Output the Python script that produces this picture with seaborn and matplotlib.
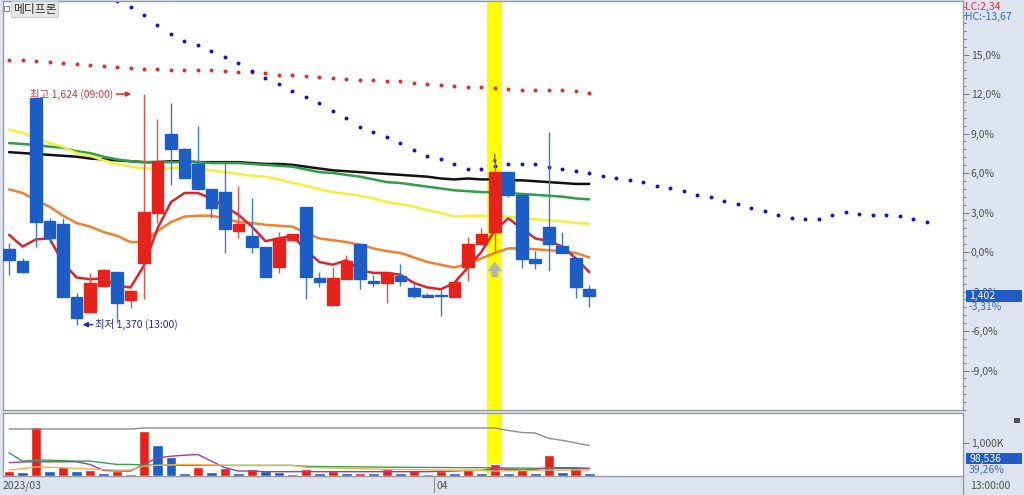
import matplotlib
matplotlib.use("Agg")
import matplotlib.pyplot as plt
from matplotlib.patches import Rectangle
from matplotlib.lines import Line2D
from matplotlib.ticker import AutoMinorLocator
import numpy as np
import pandas as pd
import seaborn as sns

# ---- hourly candles (0 = first bar on screen) ----
opens = [1453, 1440, 1620, 1484, 1481, 1400, 1384, 1413, 1428, 1397, 1438, 1493, 1580, 1563, 1547,
         1519, 1516, 1473, 1468, 1455, 1433, 1463, 1500, 1421, 1392, 1420, 1459, 1418, 1416, 1424,
         1410, 1403, 1403, 1400, 1434, 1459, 1472, 1538, 1513, 1442, 1478, 1457, 1443, 1409]
highs = [1460, 1443, 1621, 1488, 1488, 1405, 1427, 1431, 1428, 1408, 1624, 1597, 1614, 1565, 1589,
         1519, 1548, 1523, 1510, 1455, 1472, 1470, 1500, 1428, 1434, 1447, 1459, 1425, 1427, 1437,
         1416, 1405, 1408, 1417, 1467, 1477, 1551, 1538, 1513, 1451, 1582, 1472, 1443, 1414]
lows = [1425, 1427, 1455, 1460, 1400, 1370, 1384, 1412, 1372, 1388, 1398, 1482, 1524, 1531, 1518,
        1488, 1449, 1465, 1449, 1422, 1427, 1462, 1398, 1411, 1392, 1420, 1409, 1412, 1394, 1413,
        1399, 1400, 1379, 1400, 1418, 1459, 1450, 1511, 1432, 1431, 1429, 1449, 1399, 1389]
closes = [1441, 1428, 1483, 1466, 1400, 1377, 1416, 1430, 1394, 1407, 1494, 1550, 1564, 1531, 1519,
          1499, 1475, 1481, 1456, 1422, 1466, 1470, 1422, 1417, 1421, 1440, 1420, 1416, 1427, 1418,
          1402, 1401, 1402, 1417, 1459, 1470, 1538, 1513, 1442, 1438, 1459, 1449, 1411, 1402]

# moving averages
ma_red = [1469, 1456, 1464, 1465, 1438, 1422, 1420, 1421, 1413, 1411, 1435, 1476, 1505, 1515, 1515,
          1509, 1500, 1491, 1478, 1462, 1465, 1468, 1452, 1439, 1436, 1441, 1430, 1427, 1427, 1425,
          1416, 1411, 1409, 1416, 1433, 1450, 1474, 1487, 1476, 1465, 1462, 1456, 1443, 1428]
ma_orange = [1519, 1515, 1507, 1500, 1490, 1482, 1478, 1472, 1468, 1461, 1461, 1473, 1483, 1489, 1490,
             1490, 1487, 1483, 1482, 1480, 1479, 1478, 1471, 1465, 1463, 1461, 1458, 1454, 1451, 1449,
             1444, 1439, 1436, 1433, 1437, 1443, 1449, 1454, 1454, 1453, 1452, 1451, 1449, 1444]
ma_yellow = [1585, 1581, 1576, 1570, 1566, 1559, 1556, 1551, 1547, 1544, 1542, 1542, 1542, 1544, 1542,
             1540, 1538, 1536, 1534, 1533, 1530, 1526, 1523, 1519, 1516, 1514, 1512, 1509, 1505, 1503,
             1500, 1496, 1493, 1489, 1490, 1490, 1490, 1489, 1487, 1486, 1485, 1484, 1482, 1481]
ma_green = [1570, 1569, 1568, 1566, 1565, 1561, 1559, 1555, 1552, 1550, 1549, 1549, 1549, 1549, 1549,
            1548, 1548, 1548, 1547, 1546, 1545, 1544, 1541, 1538, 1537, 1535, 1533, 1530, 1527, 1526,
            1524, 1522, 1520, 1518, 1517, 1516, 1516, 1515, 1514, 1513, 1512, 1511, 1509, 1508]
ma_black = [1560, 1559, 1558, 1557, 1556, 1555, 1553, 1552, 1551, 1550, 1549, 1549, 1550, 1550, 1549,
            1549, 1549, 1549, 1548, 1547, 1547, 1546, 1544, 1542, 1540, 1539, 1538, 1537, 1536, 1535,
            1534, 1533, 1531, 1530, 1531, 1530, 1530, 1529, 1529, 1528, 1527, 1526, 1525, 1525]

# dotted spans
span_red = [1662, 1661, 1660, 1659, 1658, 1657, 1656, 1655, 1654, 1653, 1652, 1652, 1651, 1651, 1650,
            1650, 1649, 1648, 1648, 1647, 1645, 1645, 1644, 1643, 1642, 1641, 1640, 1639, 1638, 1638,
            1636, 1635, 1634, 1633, 1632, 1632, 1631, 1630, 1629, 1628, 1628, 1628, 1627, 1625]
span_blue_start = 8  # first visible bar of the leading blue span
span_blue = [1726, 1720, 1711, 1700, 1690, 1682, 1678, 1671, 1665, 1658, 1649, 1642, 1635, 1627, 1621,
             1614, 1605, 1598, 1588, 1582, 1577, 1570, 1562, 1556, 1552, 1547, 1542, 1542, 1545, 1547,
             1547, 1547, 1544, 1542, 1539, 1537, 1534, 1531, 1529, 1527, 1523, 1520, 1517, 1513, 1511,
             1506, 1503, 1498, 1495, 1491, 1487, 1486, 1486, 1491, 1494, 1492, 1491, 1491, 1490, 1486,
             1483]

# volume (shares) and volume lines (thousands)
volume = [139000, 130000, 1485000, 139000, 277000, 149000, 178000, 89000, 158000, 69000, 1356000,
          921000, 564000, 89000, 257000, 119000, 228000, 89000, 198000, 139000, 135000, 69000,
          198000, 79000, 149000, 95000, 104000, 79000, 198000, 79000, 178000, 69000, 139000, 99000,
          178000, 99000, 366000, 99000, 198000, 99000, 643000, 119000, 247000, 98536]
vol_gray = [1410, 1410, 1410, 1410, 1410, 1410, 1410, 1410, 1410, 1410, 1440, 1440, 1440, 1440, 1440,
            1440, 1440, 1440, 1440, 1440, 1440, 1440, 1440, 1440, 1440, 1440, 1440, 1440, 1440, 1440,
            1440, 1440, 1440, 1440, 1440, 1440, 1440, 1366, 1307, 1289, 1129, 1069, 992, 912]
vol_green = [695, 446, 475, 475, 460, 446, 446, 398, 347, 347, 330, 325, 320, 318, 318, 318, 318, 318,
             318, 318, 318, 318, 290, 285, 280, 278, 275, 270, 265, 262, 260, 258, 255, 252, 250, 249,
             245, 240, 236, 232, 229, 226, 223, 220]
vol_purple = [400, 420, 426, 426, 426, 426, 347, 168, 149, 149, 347, 545, 594, 624, 644, 446, 248, 149,
              149, 129, 129, 129, 129, 129, 129, 129, 129, 129, 129, 129, 129, 129, 140, 149, 168, 168,
              218, 198, 180, 198, 248, 248, 248, 230]
vol_orange = [178, 220, 277, 260, 250, 228, 210, 190, 178, 180, 297, 320, 335, 347, 340, 330, 320, 317,
              317, 317, 317, 317, 260, 248, 240, 230, 220, 210, 200, 195, 190, 185, 180, 175, 170, 168,
              149, 155, 160, 165, 175, 178, 178, 178]

base_price = 1450          # 0,0% on the right scale
pct_ticks = [-9, -6, -3, 0, 3, 6, 9, 12, 15]
signal_bar = 36            # highlighted bar
april_start = 32           # first bar of 04

RED = '#e5231b'
BLUE = '#1d5ec6'
W, H = 1024, 495

sns.set_theme(style="white")
plt.rcParams['font.family'] = ['Noto Sans CJK KR', 'DejaVu Sans']

df = pd.DataFrame({'o': opens, 'h': highs, 'l': lows, 'c': closes, 'v': volume,
                   'ma1': ma_red, 'ma2': ma_orange, 'ma3': ma_yellow, 'ma4': ma_green,
                   'ma5': ma_black, 'span_r': span_red,
                   'vg': vol_gray, 'vgr': vol_green, 'vp': vol_purple, 'vo': vol_orange})
df['i'] = np.arange(len(df))
up = df['c'] >= df['o']
cols = np.where(up, RED, BLUE)
vol_up = df['v'].diff().fillna(1) > 0
vcols = np.where(vol_up, RED, BLUE)
lead = pd.DataFrame({'i': np.arange(span_blue_start, span_blue_start + len(span_blue)),
                     'v': span_blue})


def box(x0, y0, x1, y1):
    return [x0 / W, 1 - y1 / H, (x1 - x0) / W, (y1 - y0) / H]


fig = plt.figure(figsize=(10.24, 4.95), dpi=100, facecolor='#dde4ef')
ax = fig.add_axes(box(3, 1, 963, 410))
axv = fig.add_axes(box(3, 413, 963, 476), sharex=ax)
for a in (ax, axv):
    a.set_facecolor('white')
    for s in a.spines.values():
        s.set_color('#9a9a9a')
        s.set_linewidth(1)
    a.axvspan(signal_bar - 0.55, signal_bar + 0.5, color='#ffff00', zorder=0, lw=0)

# ---- price panel ----
sns.scatterplot(data=df, x='i', y='span_r', ax=ax, color='#e52a2a', s=8, linewidth=0, zorder=2)
sns.scatterplot(data=lead, x='i', y='v', ax=ax, color='#1414c0', s=8, linewidth=0, zorder=2)
for key, c in [('ma5', '#111111'), ('ma4', '#2e9e48'), ('ma3', '#f4ef3a'),
               ('ma2', '#f0822e'), ('ma1', '#e0232b')]:
    sns.lineplot(data=df, x='i', y=key, ax=ax, color=c, linewidth=1.8, zorder=3)

ax.vlines(df['i'], df['l'], df['h'], colors=np.where(up, '#e8504a', '#3f78cf'), lw=1, zorder=4)
ax.bar(df['i'], df['c'] - df['o'], bottom=df['o'], width=0.86, color=cols,
       edgecolor=cols, linewidth=1, zorder=5)

# signal markers on the highlighted bar
ax.annotate('', xy=(signal_bar, 1440), xytext=(signal_bar, 1422),
            arrowprops=dict(arrowstyle='simple,head_width=1.3,head_length=0.9,tail_width=0.6',
                            color='#b4b4b4', lw=0, shrinkA=0, shrinkB=0, mutation_scale=8),
            zorder=6)
ax.annotate('', xy=(signal_bar, 1547), xytext=(signal_bar, 1558),
            arrowprops=dict(arrowstyle='-|>', color='#555555', lw=0.8, mutation_scale=5,
                            shrinkA=0, shrinkB=0), zorder=6)

# high / low labels
hi_i = int(np.argmax(highs))
lo_i = int(np.argmin(lows))
ax.annotate('', xy=(hi_i - 0.95, highs[hi_i]), xytext=(hi_i - 2.05, highs[hi_i]),
            arrowprops=dict(arrowstyle='-|>', color='#e02828', lw=1.1, mutation_scale=7,
                            shrinkA=0, shrinkB=0))
ax.text(hi_i - 2.3, highs[hi_i], f'최고 {highs[hi_i]:,} (09:00)', color='#d8333a',
        fontsize=7.5, ha='right', va='center')
ax.annotate('', xy=(lo_i + 0.45, lows[lo_i]), xytext=(lo_i + 1.2, lows[lo_i]),
            arrowprops=dict(arrowstyle='-|>', color='#2626a8', lw=1.1, mutation_scale=7,
                            shrinkA=0, shrinkB=0))
ax.text(lo_i + 1.35, lows[lo_i], f'최저 {lows[lo_i]:,} (13:00)', color='#2626a8',
        fontsize=7.5, ha='left', va='center')

ax.set_xlim(-0.45, 70.7)
ax.set_ylim(1276, 1726.5)
ax.set_xlabel('')
ax.set_ylabel('')
ax.set_xticks([])
ax.yaxis.tick_right()
ax.set_yticks([base_price * (1 + p / 100) for p in pct_ticks])
ax.set_yticklabels([f'{p:.1f}%'.replace('.', ',') for p in pct_ticks])
ax.yaxis.set_minor_locator(AutoMinorLocator(5))
ax.tick_params(axis='y', which='both', right=True, left=False, labelright=True, labelleft=False,
               colors='#7a7a7a', labelcolor='#505050', labelsize=7.5, pad=1.5, width=0.7)
ax.tick_params(axis='y', which='major', length=4)
ax.tick_params(axis='y', which='minor', length=2)

# ---- volume panel ----
axv.bar(df['i'], df['v'], width=0.78, color=vcols, zorder=3)
for key, c in [('vg', '#8c8c8c'), ('vgr', '#3aa04a'), ('vp', '#a03ca8'), ('vo', '#f2b24e')]:
    sns.lineplot(x=df['i'], y=df[key] * 1000, ax=axv, color=c, linewidth=1, zorder=4)
axv.set_ylim(0, 1890000)
axv.set_xlabel('')
axv.set_ylabel('')
axv.yaxis.tick_right()
axv.set_yticks([1000000])
axv.set_yticklabels(['1,000K'])
axv.yaxis.set_minor_locator(AutoMinorLocator(5))
axv.tick_params(axis='y', which='both', right=True, left=False, labelright=True, labelleft=False,
                colors='#7a7a7a', labelcolor='#505050', labelsize=7.5, pad=1.5, width=0.7)
axv.tick_params(axis='y', which='major', length=4)
axv.tick_params(axis='y', which='minor', length=2)
axv.tick_params(axis='x', which='both', bottom=False, labelbottom=False)

# ---- date strip ----
tr = axv.get_xaxis_transform()
axv.text(0.0, -0.16, '2023/03', transform=axv.transAxes, fontsize=7.5, color='#505050',
         va='center', ha='left')
axv.plot([april_start - 0.5] * 2, [-0.02, -0.26], transform=tr, color='#8a8a8a', lw=0.8,
         clip_on=False)
axv.text(april_start - 0.35, -0.16, '04', transform=tr, fontsize=7.5, color='#505050',
         va='center', ha='left')
fig.add_artist(Line2D([963 / W] * 2, [0, 1 - 477 / H], color='#9a9a9a', lw=1))
fig.text(970 / W, 1 - 486 / H, '13:00:00', fontsize=7.5, color='#505050', va='center')

# ---- title and right-side readouts ----
fig.add_artist(Rectangle((3.5 / W, 1 - 10.5 / H), 5 / W, 5 / H, transform=fig.transFigure,
                         facecolor='white', edgecolor='#8a8a8a', lw=0.8))
fig.text(13 / W, 1 - 9 / H, '메디프론', fontsize=8.5, color='#333333', va='center',
         bbox=dict(boxstyle='square,pad=0.15', facecolor='#e6e6e6', edgecolor='#c4c4c4', lw=0.6))
fig.text(965 / W, 1 - 7 / H, 'LC:2,34', fontsize=7.5, color='#e03a3a', va='center')
fig.text(965 / W, 1 - 17 / H, 'HC:-13,67', fontsize=7.5, color='#3a6ac8', va='center')

last = closes[-1]
last_pct = (last / base_price - 1) * 100
fig.add_artist(Rectangle((966 / W, 1 - 302 / H), 56 / W, 12 / H, transform=fig.transFigure,
                         facecolor='#1f5cc4', edgecolor='none', zorder=5))
fig.text(969 / W, 1 - 296 / H, f'{last:,}', fontsize=7.5, color='white', va='center', zorder=6)
fig.text(969 / W, 1 - 307 / H, f'{last_pct:.2f}%'.replace('.', ','), fontsize=7.5,
         color='#3a6ac8', va='center', zorder=6)

fig.add_artist(Rectangle((966 / W, 1 - 464 / H), 56 / W, 11 / H, transform=fig.transFigure,
                         facecolor='#1f5cc4', edgecolor='none', zorder=5))
fig.text(969 / W, 1 - 458.5 / H, f'{volume[-1]:,}', fontsize=7.5, color='white', va='center',
         zorder=6)
fig.text(969 / W, 1 - 470 / H, '39,26%', fontsize=7.5, color='#3a6ac8', va='center', zorder=6)
fig.add_artist(Rectangle((1014 / W, 1 - 423 / H), 6 / W, 5 / H, transform=fig.transFigure,
                         facecolor='#555555', edgecolor='none'))

fig.savefig('out.png', dpi=100, facecolor=fig.get_facecolor())
